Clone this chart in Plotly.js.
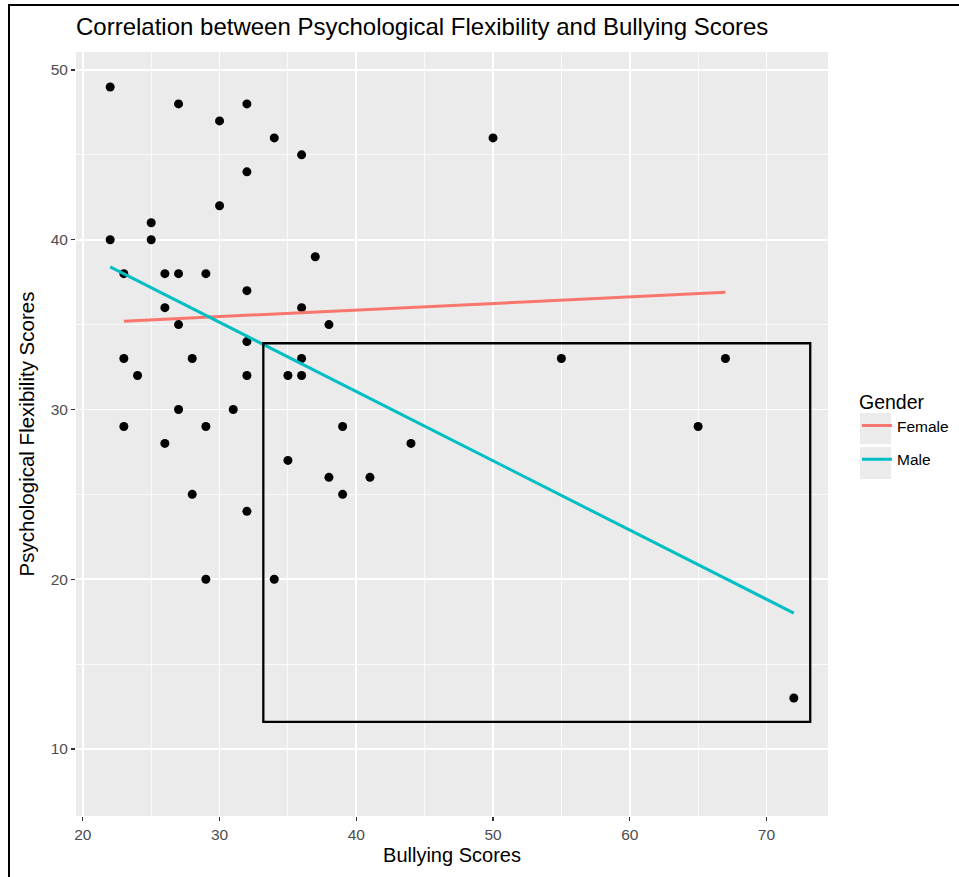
<!DOCTYPE html>
<html><head><meta charset="utf-8">
<script src="https://cdn.plot.ly/plotly-3.0.1.min.js"></script>
<style>
html,body{margin:0;padding:0;background:#fff;overflow:hidden}
#chart{width:959px;height:877px}
#frame{position:absolute;left:8px;top:4px;width:960px;height:880px;border-top:2px solid #000;border-left:2px solid #000;pointer-events:none;z-index:10}
</style></head>
<body><div id="chart"></div><div id="frame"></div>
<script>
// Data
const bullyingScores = [22,27,32,30,34,36,50,32,30,25,22,25,37,23,26,27,29,32,26,36,27,38,32,23,28,36,55,67,24,32,35,36,27,31,23,29,39,65,26,44,35,38,41,28,39,32,29,34,72];
const flexibilityScores = [49,48,48,47,46,45,46,44,42,41,40,40,39,38,38,38,38,37,36,36,35,35,34,33,33,33,33,33,32,32,32,32,30,30,29,29,29,29,28,28,27,26,26,25,25,24,20,20,13];
const genders = ['Female','Male'];
const genderColors = ['#F8766D','#00BFC4'];
const femaleFitX = [23, 67];
const femaleFitY = [35.2, 36.9];
const maleFitX = [22, 72];
const maleFitY = [38.4, 18.0];
const xTicks = [20,30,40,50,60,70];
const yTicks = [10,20,30,40,50];
const highlightX = [33.2, 73.2];
const highlightY = [11.6, 33.9];

const FONT = 'Liberation Sans, Arial, Helvetica, sans-serif';
const fitX = [femaleFitX, maleFitX];
const fitY = [femaleFitY, maleFitY];

const traces = [{
  type:'scatter', mode:'markers', x:bullyingScores, y:flexibilityScores,
  marker:{color:'#000', size:9}, showlegend:false, hoverinfo:'x+y'
}];
genders.forEach((g,i)=>{
  traces.push({type:'scatter', mode:'lines', x:fitX[i], y:fitY[i], name:g,
    legendgroup:g, line:{color:genderColors[i], width:3}});
});

const shapes = [{type:'rect', xref:'x', yref:'y', x0:highlightX[0], x1:highlightX[1], y0:highlightY[0], y1:highlightY[1],
  line:{color:'#000', width:2.3}, fillcolor:'rgba(0,0,0,0)', layer:'above'}];
// legend key backgrounds (ggplot style grey key boxes)
const keyX0 = (860-76)/752, keyX1 = (891-76)/752;
[[413,444],[447,479]].forEach(b=>{
  shapes.push({type:'rect', xref:'paper', yref:'paper', x0:keyX0, x1:keyX1,
    y0:(816-b[1])/764, y1:(816-b[0])/764, line:{width:0}, fillcolor:'#EBEBEB', layer:'below'});
});

const axisCommon = {
  showline:false, zeroline:false, ticks:'outside', ticklen:4, tickwidth:1.1, tickcolor:'#333',
  gridcolor:'#FFFFFF', gridwidth:1.6, tickfont:{family:FONT, size:15.5, color:'#4D4D4D'},
  minor:{showgrid:true, gridcolor:'#FFFFFF', gridwidth:0.8, ticks:''}
};

const layout = {
  width:959, height:877,
  margin:{l:76, r:131, t:52, b:61, autoexpand:false},
  paper_bgcolor:'#FFFFFF', plot_bgcolor:'#EBEBEB',
  font:{family:FONT, color:'#000'},
  title:{text:'Correlation between Psychological Flexibility and Bullying Scores',
    font:{family:FONT, size:24, color:'#000'}, x:76/959, xanchor:'left', xref:'container',
    y:1-27/877, yanchor:'middle', yref:'container'},
  xaxis:Object.assign({}, axisCommon, {range:[19.5,74.5], tickvals:xTicks, ticktext:xTicks.map(String),
    minor:Object.assign({}, axisCommon.minor, {tickvals:[25,35,45,55,65]}),
    title:{text:'Bullying Scores', font:{family:FONT, size:20, color:'#000'}, standoff:6}}),
  yaxis:Object.assign({}, axisCommon, {range:[6.05,51.06], tickvals:yTicks, ticktext:yTicks.map(String),
    minor:Object.assign({}, axisCommon.minor, {tickvals:[15,25,35,45]}),
    title:{text:'Psychological Flexibility Scores', font:{family:FONT, size:20.5, color:'#000'}, standoff:10}}),
  legend:{x:(857-76)/752, xanchor:'left', y:0.566, yanchor:'top', bgcolor:'rgba(0,0,0,0)',
    font:{family:FONT, size:15.5, color:'#000'},
    title:{text:'Gender', font:{family:FONT, size:19.5, color:'#000'}},
    traceorder:'grouped', tracegroupgap:10.6, itemwidth:30},
  shapes:shapes,
  showlegend:true
};

Plotly.newPlot('chart', traces, layout, {displayModeBar:false, staticPlot:true});
</script>
</body></html>
